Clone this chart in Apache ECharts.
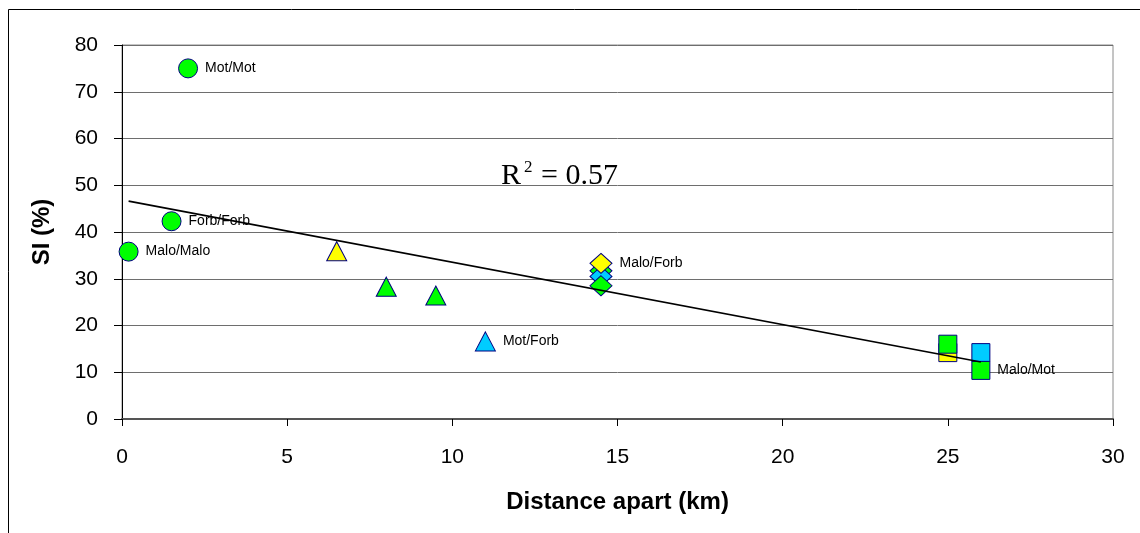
<!DOCTYPE html>
<html>
<head>
<meta charset="utf-8">
<script src="https://cdn.jsdelivr.net/npm/echarts@6/dist/echarts.min.js"></script>
<style>
  html, body { margin: 0; padding: 0; background: #fff; }
  #chart { width: 1140px; height: 533px; }
</style>
</head>
<body>
<div id="chart"></div>
<script>
  // SI (%) against distance apart (km), one array per marker shape
  var circlePts = [[0.2, 35.8], [1.5, 42.3], [2, 75]]
  var circleCols = ['g', 'g', 'g']
  var circleLabels = ['Malo/Malo', 'Forb/Forb', 'Mot/Mot']

  var trianglePts = [[6.5, 35.9], [8, 28.3], [9.5, 26.4], [11, 16.6]]
  var triangleCols = ['y', 'g', 'g', 'b']
  var triangleLabels = ['', '', '', 'Mot/Forb']

  var diamondPts = [[14.5, 31.7], [14.5, 30.5], [14.5, 28.5], [14.5, 33.3]]
  var diamondCols = ['g', 'b', 'g', 'y']
  var diamondLabels = ['', '', '', 'Malo/Forb']

  var squarePts = [[25, 14.2], [25, 16], [26, 14.2], [26, 10.4]]
  var squareCols = ['y', 'g', 'b', 'g']
  var squareLabels = ['', '', '', 'Malo/Mot']

  // linear trend line end points
  var trendPts = [[0.2, 46.6], [26, 12.2]]

  var colorMap = { g: '#00ff00', y: '#ffff00', b: '#00ccff' }
  var font = 'Arial, "Liberation Sans", sans-serif'
  var serif = '"Times New Roman", "Liberation Serif", serif'

  function markerSeries (symbol, size, pts, cols, labels) {
    var data = pts.map(function (p, i) {
      return {
        value: p,
        itemStyle: { color: colorMap[cols[i]] },
        label: { show: !!labels[i], formatter: labels[i] }
      }
    })
    return {
      type: 'scatter',
      symbol: symbol,
      symbolSize: size,
      itemStyle: { borderColor: '#000080', borderWidth: 1, opacity: 1 },
      label: {
        position: 'right',
        distance: 7,
        color: '#000',
        fontSize: 14,
        fontFamily: font
      },
      emphasis: { disabled: true },
      data: data,
      z: 3
    }
  }

  var chart = echarts.init(document.getElementById('chart'))

  var option = {
    animation: false,
    backgroundColor: '#fff',
    grid: {
      left: 122,
      right: 27,
      top: 45,
      bottom: 114,
      show: true,
      borderColor: '#8a8a8a',
      borderWidth: 1
    },
    xAxis: {
      type: 'value',
      min: 0,
      max: 30,
      interval: 5,
      name: 'Distance apart (km)',
      nameLocation: 'middle',
      nameGap: 71,
      nameTextStyle: { fontSize: 24, fontWeight: 'bold', color: '#000', fontFamily: font },
      axisLine: { onZero: false, lineStyle: { color: '#555', width: 2 } },
      axisTick: { show: true, length: 7, lineStyle: { color: '#000', width: 1 } },
      axisLabel: { fontSize: 21, color: '#000', margin: 28, fontFamily: font },
      splitLine: { show: false }
    },
    yAxis: {
      type: 'value',
      min: 0,
      max: 80,
      interval: 10,
      name: 'SI (%)',
      nameLocation: 'middle',
      nameGap: 68,
      nameRotate: 90,
      nameTextStyle: { fontSize: 24, fontWeight: 'bold', color: '#000', fontFamily: font },
      axisLine: { show: true, onZero: false, lineStyle: { color: '#000', width: 1 } },
      axisTick: { show: true, length: 8, lineStyle: { color: '#000', width: 1 } },
      axisLabel: { fontSize: 21, color: '#000', margin: 24, fontFamily: font },
      splitLine: { show: true, lineStyle: { color: '#6e6e6e', width: 1 } }
    },
    series: [
      markerSeries('circle', 19, circlePts, circleCols, circleLabels),
      markerSeries('triangle', [20, 19], trianglePts, triangleCols, triangleLabels),
      markerSeries('diamond', [22, 20], diamondPts, diamondCols, diamondLabels),
      markerSeries('rect', [18, 18], squarePts, squareCols, squareLabels),
      {
        type: 'line',
        data: trendPts,
        showSymbol: false,
        symbol: 'none',
        lineStyle: { color: '#000', width: 1.6 },
        emphasis: { disabled: true },
        z: 4
      }
    ],
    graphic: [
      {
        type: 'rect',
        shape: { x: 8.5, y: 9.5, width: 1200, height: 600 },
        style: { fill: 'none', stroke: '#000', lineWidth: 1 },
        silent: true,
        z: -1
      },
      {
        type: 'text',
        x: 501,
        y: 176,
        style: { text: 'R', fontSize: 30, fontFamily: serif, fill: '#000', verticalAlign: 'middle' },
        silent: true
      },
      {
        type: 'text',
        x: 524,
        y: 168,
        style: { text: '2', fontSize: 17, fontFamily: serif, fill: '#000', verticalAlign: 'middle' },
        silent: true
      },
      {
        type: 'text',
        x: 541,
        y: 176,
        style: { text: '= 0.57', fontSize: 30, fontFamily: serif, fill: '#000', verticalAlign: 'middle' },
        silent: true
      }
    ]
  }

  chart.setOption(option)
</script>
</body>
</html>
